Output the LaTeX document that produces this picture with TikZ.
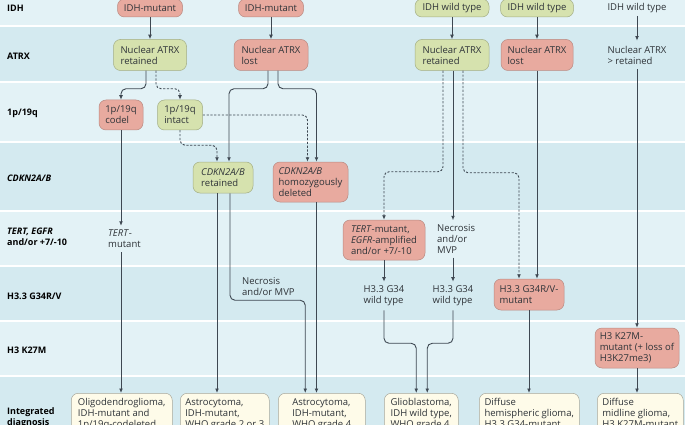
\documentclass[tikz,border=0pt]{standalone}
\usepackage{fontspec}
\setmainfont{Open Sans}
\usetikzlibrary{arrows.meta,positioning}
\definecolor{bandA}{HTML}{E3F2F6}
\definecolor{bandB}{HTML}{D4EAF0}
\definecolor{redbox}{HTML}{E8AA9F}
\definecolor{redline}{HTML}{B98A82}
\definecolor{greenbox}{HTML}{D6E2AE}
\definecolor{greenline}{HTML}{A3AE85}
\definecolor{creambox}{HTML}{FEFBE9}
\definecolor{creamline}{HTML}{A8A89C}
\definecolor{arrowcol}{HTML}{3E4852}
\definecolor{txt}{HTML}{2E3338}
\begin{document}
\begin{tikzpicture}
	[x=1pt,y=-1pt,
	every node/.style={font=\fontsize{9.5}{11}\selectfont,text=txt,align=left,inner sep=0pt},
	mut/.style={draw=redline,fill=redbox,line width=0.5pt,rounded corners=7pt},
	wt/.style={draw=greenline,fill=greenbox,line width=0.5pt,rounded corners=7pt},
	diag/.style={draw=creamline,fill=creambox,line width=0.5pt,rounded corners=7pt,
		anchor=north west,inner ysep=5pt},
	lab/.style={anchor=west,text=black,font=\bfseries\fontsize{9}{11}\selectfont},
	arr/.style={-{Latex[length=4.5pt,width=3.8pt]},draw=arrowcol,line width=0.9pt},
	dsh/.style={arr,dash pattern=on 2.2pt off 1.6pt},
	elbow/.style={rounded corners=5pt}]
	\useasboundingbox (0,0) rectangle (685,425);
	\clip (0,0) rectangle (685,425);
	\foreach \ya/\yb/\c in {0/26/bandA,26/82/bandB,82/142/bandA,142/211/bandB,
		211/266/bandA,266/321/bandB,321/376/bandA,376/425/bandB}
		\fill[\c] (0,\ya) rectangle (685,\yb);
	\foreach \y in {26,82,142,211,266,321,376}
		\draw[white,line width=2pt] (0,\y) -- (685,\y);
	% row labels
	\node[lab] (lidh) at (7,8) {IDH};
	\node[lab] (latrx) at (7,56) {ATRX};
	\node[lab] (lcodel) at (7,113) {1p/19q};
	\node[lab] (lcdkn) at (7,178) {\textit{CDKN2A/B}};
	\node[lab] (ltert) at (7,237) {\textit{TERT, EGFR}\\and/or +7/-10};
	\node[lab] (lg34) at (7,296) {H3.3 G34R/V};
	\node[lab] (lk27) at (7,350) {H3 K27M};
	\node[lab] (ldiag) at (7,418) {Integrated\\diagnosis};
	% IDH-mutant
	\node[mut,minimum width=65pt,minimum height=18pt] (idh1) at (150,8) {IDH-mutant};
	\node[wt,minimum width=73pt,minimum height=31pt] (atrx1) at (150,55) {Nuclear ATRX\\retained};
	\node[mut,minimum width=44pt,minimum height=30pt] (codel) at (121,115) {1p/19q\\codel};
	\node[wt,minimum width=45pt,minimum height=30pt] (intact) at (180,115) {1p/19q\\intact};
	\node[anchor=west,inner ysep=4pt] (tertmut) at (108,239) {\textit{TERT}-\\mutant};
	\node[mut,minimum width=65pt,minimum height=18pt] (idh2) at (271,8) {IDH-mutant};
	\node[mut,minimum width=74pt,minimum height=31pt] (atrx2) at (271,55) {Nuclear ATRX\\lost};
	\node[wt,minimum width=60pt,minimum height=31pt] (cdkret) at (223,177.5) {\textit{CDKN2A/B}\\retained};
	\node[mut,minimum width=75pt,minimum height=40pt] (cdkdel) at (310.5,182) {\textit{CDKN2A/B}\\homozygously\\deleted};
	\node[anchor=west] (necro2) at (242,287) {Necrosis\\and/or MVP};
	% IDH wild type
	\node[wt,minimum width=74pt,minimum height=18pt] (idh3) at (452,8) {IDH wild type};
	\node[wt,minimum width=74pt,minimum height=31pt] (atrx3) at (452,55) {Nuclear ATRX\\retained};
	\node[mut,minimum width=82pt,minimum height=40pt] (tertbox) at (384,240) {\textit{TERT}-mutant,\\\textit{EGFR}-amplified\\and/or +7/-10};
	\node[anchor=west,inner ysep=4pt] (necro1) at (437,239) {Necrosis\\and/or\\MVP};
	\node[inner ysep=4pt] (g34wt1) at (384,296) {H3.3 G34\\wild type};
	\node[inner ysep=4pt] (g34wt2) at (453,296) {H3.3 G34\\wild type};
	\node[wt,minimum width=73pt,minimum height=18pt] (idh4) at (537,8) {IDH wild type};
	\node[mut,minimum width=72pt,minimum height=31pt] (atrx4) at (537,55) {Nuclear ATRX\\lost};
	\node[mut,minimum width=70pt,minimum height=31pt] (g34mut) at (529,294.5) {H3.3 G34R/V-\\mutant};
	\node[inner ysep=3pt] (idh5) at (637,8) {IDH wild type};
	\node[inner ysep=5pt] (atrx5) at (637,55) {Nuclear ATRX\\> retained};
	\node[mut,minimum width=84pt,minimum height=40pt] (k27) at (637,348) {H3 K27M-\\mutant (+ loss of\\H3K27me3)};
	% integrated diagnosis
	\node[diag,minimum width=101pt] (oligo) at (71,393) {Oligodendroglioma,\\IDH-mutant and\\1p/19q-codeleted};
	\node[diag,minimum width=89pt] (astro23) at (180,393) {Astrocytoma,\\IDH-mutant,\\WHO grade 2 or 3};
	\node[diag,minimum width=87pt] (astro4) at (278,393) {Astrocytoma,\\IDH-mutant,\\WHO grade 4};
	\node[diag,minimum width=74pt] (glio) at (384,393) {Glioblastoma,\\IDH wild type,\\WHO grade 4};
	\node[diag,minimum width=100pt] (hemi) at (479,393) {Diffuse\\hemispheric glioma,\\H3.3 G34-mutant};
	\node[diag,minimum width=86pt] (midline) at (597,393) {Diffuse\\midline glioma,\\H3 K27M-mutant};
	% connectors
	\draw[arr] (idh1) -- (atrx1);
	\draw[arr,elbow] ([xshift=-4pt]atrx1.south) -- ++(0,18) -| (codel);
	\draw[dsh,elbow] ([xshift=6pt]atrx1.south) -- ++(0,18) -| (intact);
	\draw[arr] (codel) -- (codel |- tertmut.north);
	\draw[arr] (codel |- tertmut.south) -- (codel |- oligo.north);
	\draw[dsh,elbow] (intact.south) -- ++(0,15) -| ([xshift=-6pt]cdkret.north);
	\draw[dsh,elbow] (intact.east) -| ([xshift=-3pt]cdkdel.north);
	\draw[arr] (idh2) -- (atrx2);
	\draw[arr,elbow] ([xshift=-3pt]atrx2.south) -- ++(0,18) -| ([xshift=6pt]cdkret.north);
	\draw[arr,elbow] ([xshift=7pt]atrx2.south) -- ++(0,18) -| ([xshift=6pt]cdkdel.north);
	\draw[arr] ([xshift=-6pt]cdkret.south) -- ([xshift=-6pt]cdkret.south |- astro23.north);
	\draw[arr,elbow] ([xshift=7pt]cdkret.south) -- ++(0,107) -| ([xshift=-16.5pt]astro4.north);
	\draw[arr] ([xshift=6pt]cdkdel.south) -- ([xshift=6pt]cdkdel.south |- astro4.north);
	\draw[arr] (idh3) -- (atrx3);
	\draw[dsh,elbow] ([xshift=-9pt]atrx3.south) -- ++(0,101) -| (tertbox);
	\draw[arr] ([xshift=1pt]atrx3.south) -- ([xshift=1pt]atrx3.south |- necro1.north);
	\draw[dsh,elbow] ([xshift=11pt]atrx3.south) -- ++(0,102) -| ([xshift=-10pt]g34mut.north);
	\draw[arr] (tertbox) -- (g34wt1);
	\draw[arr] (g34wt2 |- necro1.south) -- (g34wt2);
	\draw[arr,elbow] (g34wt1.south) -- ++(0,33) -| ([xshift=-5pt]glio.north);
	\draw[arr,elbow] (g34wt2.south) -- ++(0,33) -| ([xshift=6pt]glio.north);
	\draw[arr] (idh4) -- (atrx4);
	\draw[arr] (atrx4) -- (atrx4 |- g34mut.north);
	\draw[arr] (g34mut) -- (g34mut |- hemi.north);
	\draw[arr] (idh5) -- (atrx5);
	\draw[arr] (atrx5) -- (k27);
	\draw[arr] (k27) -- (k27 |- midline.north);
\end{tikzpicture}
\end{document}
